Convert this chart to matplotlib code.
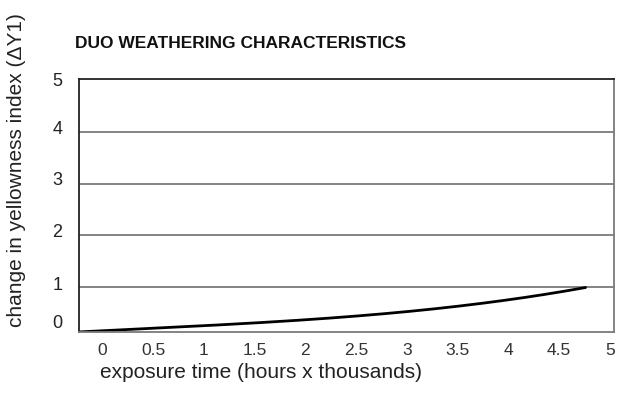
import matplotlib
matplotlib.use("Agg")
import matplotlib.pyplot as plt
import numpy as np

plt.rcParams['font.family'] = ['Liberation Sans', 'DejaVu Sans']

# data (x in thousands of hours, y = change in YI)
curve_x = [-0.23, 0.0, 1.0, 1.76, 2.74, 3.5, 4.0, 4.5, 4.76]
curve_y = [0.13, 0.16, 0.24, 0.34, 0.49, 0.63, 0.74, 0.90, 1.0]
grid_y = [1, 2, 3, 4]
xtick_vals = [0, 0.5, 1, 1.5, 2, 2.5, 3, 3.5, 4, 4.5, 5]
xtick_labels = ["0", "0.5", "1", "1.5", "2", "2.5", "3", "3.5", "4", "4.5", "5"]
ytick_vals = [0.34, 1.07, 2.09, 3.11, 4.1, 5.03]
ytick_labels = ["0", "1", "2", "3", "4", "5"]

fig = plt.figure(figsize=(6.27, 4.04), dpi=100)
ax = fig.add_axes([79/627, 1-332/404, (614-79)/627, (332-79)/404])

# smooth curve through read points
xs = np.linspace(curve_x[0], curve_x[-1], 200)
coef = np.polyfit(curve_x, curve_y, 3)
ax.plot(xs, np.polyval(coef, xs), color='black', lw=2.0, solid_capstyle='round')

for g in grid_y:
    ax.axhline(g, color='#7a7a7a', lw=1.3, zorder=0)

ax.set_xlim(-0.23, 5.04)
ax.set_ylim(0.13, 5.0)

for s in ['top', 'left']:
    ax.spines[s].set_color('#222222')
    ax.spines[s].set_linewidth(1.3)
for s in ['right', 'bottom']:
    ax.spines[s].set_color('#7a7a7a')
    ax.spines[s].set_linewidth(1.3)

ax.set_xticks(xtick_vals)
ax.set_xticklabels(xtick_labels, fontsize=12.5, color='#333333')
ax.set_yticks(ytick_vals)
ax.set_yticklabels(ytick_labels, fontsize=13, color='#222222')
ax.tick_params(axis='both', length=0)
ax.tick_params(axis='x', pad=8)
ax.tick_params(axis='y', pad=12)

fig.text(17/627, 1-170/404, "change in yellowness index (ΔY1)", rotation=90,
         ha='center', va='center', fontsize=15, color='#222222')
fig.text(100/627, 1-372/404, "exposure time (hours x thousands)",
         ha='left', va='center', fontsize=15, color='#222222')
fig.text(75/627, 1-44/404, "DUO WEATHERING CHARACTERISTICS",
         ha='left', va='center', fontsize=12.5, fontweight='bold', color='#111111')

fig.savefig("out.png", dpi=100)
